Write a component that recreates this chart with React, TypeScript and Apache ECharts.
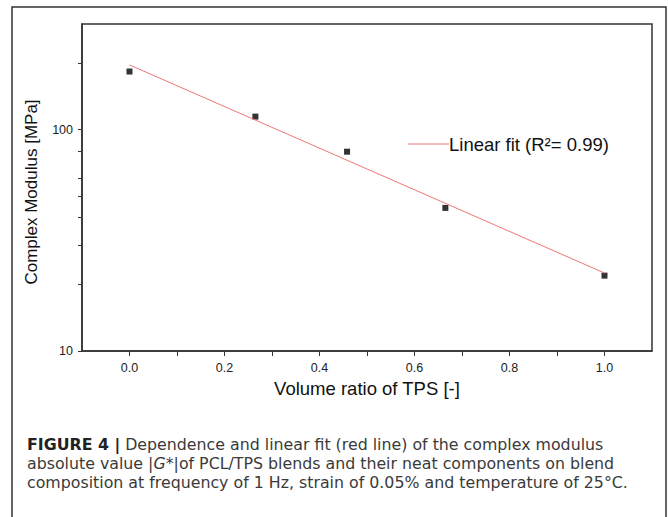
import React, { useEffect, useRef } from "react";
import * as echarts from "echarts";

const xVals = [0, 0.265, 0.458, 0.665, 1.0];
const yVals = [183, 114.5, 79.5, 44.3, 21.9];
const fitX = [0, 1];
const fitY = [196, 22.5];
const xLabelValues = [0, 0.2, 0.4, 0.6, 0.8, 1.0];
const xTickValues = [0, 0.1, 0.2, 0.3, 0.4, 0.5, 0.6, 0.7, 0.8, 0.9, 1.0];
const yLabelValues = [10, 100];
const yTickValues = [10, 20, 30, 40, 50, 60, 80, 100, 200];
const yMin = 10;
const yMax = 300;
const xMin = -0.1;
const xMax = 1.1;

const FONT = "'Liberation Sans', Arial, Helvetica, sans-serif";
const CAP_FONT = "'DejaVu Sans', 'Liberation Sans', sans-serif";
const CAP = 15.8;

export default function App() {
  const ref = useRef<HTMLDivElement>(null);
  useEffect(() => {
    if (!ref.current) return;
    const chart = echarts.init(ref.current, null, { renderer: "svg" });
    const lg = (v: number) => Math.log10(v);
    const axisColor = "#333";
    chart.setOption({
      animation: false,
      textStyle: { fontFamily: FONT },
      grid: {
        left: 82,
        top: 24,
        width: 570,
        height: 327,
        show: true,
        borderColor: axisColor,
        borderWidth: 1.5,
        backgroundColor: "transparent",
      },
      xAxis: {
        type: "value",
        min: xMin,
        max: xMax,
        name: "Volume ratio of TPS [-]",
        nameLocation: "middle",
        nameGap: 25,
        nameTextStyle: { fontSize: 18.5, color: "#111", fontFamily: FONT },
        axisLine: { show: true, onZero: false, lineStyle: { color: axisColor, width: 1.5 } },
        axisTick: {
          show: true,
          inside: false,
          length: 5,
          customValues: xTickValues,
          lineStyle: { color: axisColor, width: 1 },
        },
        axisLabel: {
          customValues: xLabelValues,
          formatter: (v: number) => v.toFixed(1),
          fontSize: 12.5,
          color: "#222",
          margin: 10,
          fontFamily: FONT,
        },
        splitLine: { show: false },
      },
      yAxis: {
        type: "value",
        min: lg(yMin),
        max: lg(yMax),
        axisLine: { show: true, onZero: false, lineStyle: { color: axisColor, width: 1.5 } },
        axisTick: {
          show: true,
          inside: false,
          length: 4,
          customValues: yTickValues.map(lg),
          lineStyle: { color: axisColor, width: 1 },
        },
        axisLabel: {
          customValues: yLabelValues.map(lg),
          formatter: (v: number) => String(Math.round(Math.pow(10, v))),
          fontSize: 12.5,
          color: "#222",
          margin: 9,
          fontFamily: FONT,
        },
        splitLine: { show: false },
      },
      series: [
        {
          name: "Linear fit",
          type: "line",
          data: fitX.map((x, i) => [x, lg(fitY[i])]),
          symbol: "none",
          lineStyle: { color: "#ee7777", width: 1 },
          silent: true,
        },
        {
          name: "Data",
          type: "scatter",
          data: xVals.map((x, i) => [x, lg(yVals[i])]),
          symbol: "rect",
          symbolSize: 6,
          itemStyle: { color: "#000" },
          silent: true,
        },
      ],
      graphic: [
        {
          type: "rect",
          shape: { x: 12, y: 7, width: 654, height: 530 },
          style: { fill: "none", stroke: "#333", lineWidth: 1.5 },
          silent: true,
        },
        {
          type: "text",
          x: 31,
          y: 192,
          rotation: Math.PI / 2,
          style: {
            text: "Complex Modulus [MPa]",
            fontSize: 17,
            fontFamily: FONT,
            fill: "#111",
            align: "center",
            verticalAlign: "middle",
          },
          silent: true,
        },
        {
          type: "line",
          shape: { x1: 408, y1: 144, x2: 449, y2: 144 },
          style: { stroke: "#ee7777", lineWidth: 1 },
          silent: true,
        },
        {
          type: "text",
          x: 449,
          y: 144,
          style: {
            text: "Linear fit (R²= 0.99)",
            fontSize: 18.5,
            fontFamily: FONT,
            fill: "#111",
            verticalAlign: "middle",
            align: "left",
          },
          silent: true,
        },
        {
          type: "text",
          x: 27,
          y: 444,
          style: {
            text: "{b|FIGURE 4 |} {n|Dependence and linear fit (red line) of the complex modulus}",
            verticalAlign: "middle",
            align: "left",
            rich: {
              b: { fontSize: CAP, fontWeight: "bold", fill: "#222", fontFamily: CAP_FONT },
              n: { fontSize: CAP, fill: "#3a3a3a", fontFamily: CAP_FONT },
            },
            fontSize: CAP,
            fontFamily: CAP_FONT,
          },
          silent: true,
        },
        {
          type: "text",
          x: 27,
          y: 463,
          style: {
            text: "{n|absolute value |}{i|G}{n|*|of PCL/TPS blends and their neat components on blend}",
            verticalAlign: "middle",
            align: "left",
            rich: {
              n: { fontSize: CAP, fill: "#3a3a3a", fontFamily: CAP_FONT },
              i: { fontSize: CAP, fill: "#3a3a3a", fontStyle: "italic", fontFamily: CAP_FONT },
            },
            fontSize: CAP,
            fontFamily: CAP_FONT,
          },
          silent: true,
        },
        {
          type: "text",
          x: 27,
          y: 482,
          style: {
            text: "composition at frequency of 1 Hz, strain of 0.05% and temperature of 25°C.",
            verticalAlign: "middle",
            align: "left",
            fontSize: CAP,
            fill: "#3a3a3a",
            fontFamily: CAP_FONT,
          },
          silent: true,
        },
      ],
    });
    return () => chart.dispose();
  }, []);
  return (
    <div
      ref={ref}
      style={{ position: "absolute", left: 0, top: 0, width: 668, height: 517, background: "#fff" }}
    />
  );
}
